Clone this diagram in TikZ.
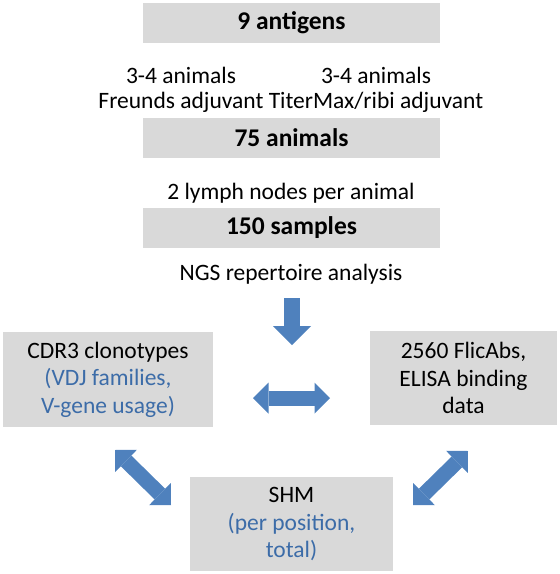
\documentclass[tikz,border=0pt]{standalone}
\usepackage{fontspec}
\setmainfont{Carlito}
\usetikzlibrary{arrows.meta}
\definecolor{boxgray}{HTML}{D9D9D9}
\definecolor{arrowblue}{HTML}{4F81BD}
\definecolor{textblue}{HTML}{3C6CA8}
\begin{document}
\begin{tikzpicture}[x=1pt,y=-1pt,
  graybox/.style={fill=boxgray, draw=none, inner sep=0pt, align=center,
    font=\fontsize{23.5}{27.5}\selectfont},
  boldtxt/.style={font=\fontsize{25.5}{27.5}\selectfont\bfseries},
  lbl/.style={inner sep=0pt, align=center, font=\fontsize{23.5}{25.5}\selectfont},
  dblarrow/.style={draw=arrowblue, line width=15pt,
    {Triangle[length=15.5pt,width=31pt,line width=0pt]}-{Triangle[length=15.5pt,width=31pt,line width=0pt]}},
  downarrow/.style={draw=arrowblue, line width=16pt,
    -{Triangle[length=19pt,width=38pt,line width=0pt]}}
]
\useasboundingbox (0,0) rectangle (560,574);
% top boxes
\node[graybox, boldtxt, minimum width=297pt, minimum height=40pt] (ant) at (291.5,23) {9 antigens};
\node[graybox, boldtxt, minimum width=297pt, minimum height=40pt] (anim) at (291.5,138) {75 animals};
\node[graybox, boldtxt, minimum width=297pt, minimum height=40pt] (samp) at (291.5,228) {150 samples};
% labels
\node[lbl] (frd) at (181,90) {3-4 animals\\Freunds adjuvant};
\node[lbl] (ttm) at (376,90) {3-4 animals\\TiterMax/ribi adjuvant};
\node[lbl, anchor=base] (lymph) at (291,199) {2 lymph nodes per animal};
\node[lbl, anchor=base] (ngs) at (291,280) {NGS repertoire analysis};
% bottom boxes
\node[graybox, minimum width=210pt, minimum height=95pt] (cdr) at (108,379.5)
  {CDR3 clonotypes\\\textcolor{textblue}{(VDJ families,}\\\textcolor{textblue}{V-gene usage)}};
\node[graybox, minimum width=187pt, minimum height=94pt] (flic) at (463.5,378)
  {2560 FlicAbs,\\ELISA binding\\data};
\node[graybox, minimum width=203pt, minimum height=94pt] (shm) at (291.5,524)
  {SHM\\\textcolor{textblue}{(per position,}\\\textcolor{textblue}{total)}};
% arrows
\coordinate (dtop) at (292,298);
\coordinate (dbot) at (292,345);
\coordinate (hl) at (253,398);
\coordinate (hr) at (330,398);
\coordinate (dla) at (115,450);
\coordinate (dlb) at (171,505);
\coordinate (dra) at (468,451);
\coordinate (drb) at (413,505);
\draw[downarrow] (dtop) -- (dbot);
\draw[dblarrow] (hl) -- (hr);
\draw[dblarrow] (dla) -- (dlb);
\draw[dblarrow] (dra) -- (drb);
\end{tikzpicture}
\end{document}
